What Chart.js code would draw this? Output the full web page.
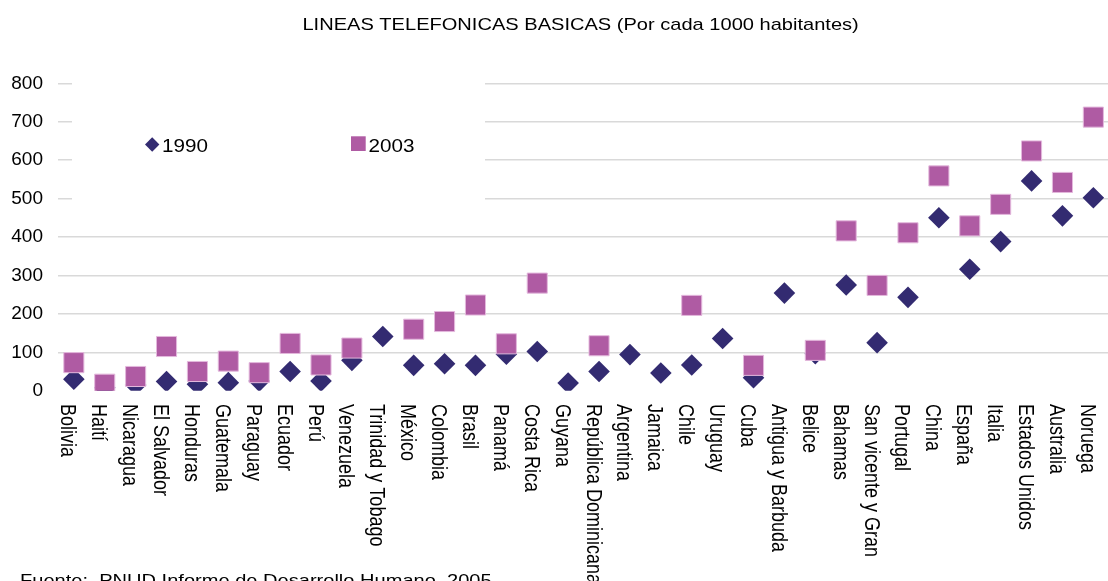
<!DOCTYPE html>
<html>
<head>
<meta charset="utf-8">
<script src="https://cdn.jsdelivr.net/npm/chart.js@4.4.0/dist/chart.umd.min.js"></script>
<style>
  html, body { margin: 0; padding: 0; background: #fff; overflow: hidden; }
  #wrap { width: 1124px; height: 581px; }
</style>
</head>
<body>
<div id="wrap"><canvas id="lineas"></canvas></div>
<script>
var paises = ["Bolivia", "Haití", "Nicaragua", "El Salvador", "Honduras", "Guatemala", "Paraguay",
  "Ecuador", "Perú", "Venezuela", "Trinidad y Tobago", "México", "Colombia", "Brasil", "Panamá",
  "Costa Rica", "Guyana", "República Dominicana", "Argentina", "Jamaica", "Chile", "Uruguay",
  "Cuba", "Antigua y Barbuda", "Belice", "Bahamas", "San vicente y Gran", "Portugal", "China",
  "España", "Italia", "Estados Unidos", "Australia", "Noruega"];

var lineas1990 = [30, 8, 15, 24, 17, 21, 25, 50, 25, 79, 141, 66, 70, 66, 95, 102, 20, 50, 94, 46,
  67, 136, 34, 254, 96, 275, 125, 243, 450, 316, 388, 546, 455, 502];

var lineas2003 = [73, 17, 37, 115, 50, 77, 47, 123, 67, 111, null, 160, 180, 223, 122, 280, null, 117,
  null, null, 222, null, 66, null, 105, 416, 274, 411, 559, 429, 485, 624, 542, 712];

var ticksY = [0, 100, 200, 300, 400, 500, 600, 700, 800];

var titulo = "LINEAS TELEFONICAS BASICAS (Por cada 1000 habitantes)";
var fuente = "Fuente:  PNUD Informe de Desarrollo Humano, 2005";

var LETRA = '"Liberation Sans", Arial, sans-serif';
var ANCHO = 1.18; // las letras van algo ensanchadas

// texto ensanchado en horizontal; rot en radianes
function escribe(ctx, str, x, y, size, align, rot) {
  ctx.save();
  ctx.translate(x, y);
  ctx.scale(ANCHO, 1);
  if (rot) ctx.rotate(rot);
  ctx.font = size + 'px ' + LETRA;
  ctx.fillStyle = '#000';
  ctx.textAlign = align;
  ctx.textBaseline = 'alphabetic';
  ctx.fillText(str, 0, 0);
  ctx.restore();
}

var adornos = {
  id: 'adornos',
  beforeDatasetsDraw: function (chart) {
    var ctx = chart.ctx;
    var ds = chart.data.datasets;
    ctx.save();
    // caja blanca de la leyenda sobre las lineas de division
    ctx.fillStyle = '#fff';
    ctx.fillRect(72, 70, 413, 145);

    ctx.fillStyle = ds[0].backgroundColor;
    ctx.beginPath();
    ctx.moveTo(145, 144.5);
    ctx.lineTo(152.2, 137.3);
    ctx.lineTo(159.4, 144.5);
    ctx.lineTo(152.2, 151.7);
    ctx.closePath();
    ctx.fill();
    escribe(ctx, ds[0].label, 162, 151.5, 17.5, 'left');

    ctx.fillStyle = ds[1].backgroundColor;
    ctx.fillRect(351, 136.3, 14.7, 14.7);
    escribe(ctx, ds[1].label, 368.5, 151.5, 17.5, 'left');
    ctx.restore();
  },
  afterDraw: function (chart) {
    var ctx = chart.ctx;
    var area = chart.chartArea;
    var xs = chart.scales.x;
    escribe(ctx, titulo, (area.left + area.right) / 2 - 3, 30, 17, 'center');
    paises.forEach(function (p, i) {
      var x = xs.getPixelForValue(i);
      escribe(ctx, p, x - 12.5, 404, 18, 'left', Math.PI / 2);
    });
    escribe(ctx, fuente, 20, 585.5, 17, 'left');
  }
};

new Chart(document.getElementById('lineas'), {
  type: 'line',
  data: {
    labels: paises,
    datasets: [
      {
        label: '1990',
        data: lineas1990,
        showLine: false,
        order: 2,
        pointStyle: 'rectRot',
        pointRadius: 10.8,
        pointHoverRadius: 10.8,
        pointBorderWidth: 0,
        backgroundColor: '#332B71',
        borderColor: '#332B71'
      },
      {
        label: '2003',
        data: lineas2003,
        showLine: false,
        order: 1,
        pointStyle: 'rect',
        pointRadius: 14.2,
        pointHoverRadius: 14.2,
        pointBorderWidth: 1,
        backgroundColor: '#AF5BA3',
        borderColor: '#E4B9DD'
      }
    ]
  },
  options: {
    responsive: true,
    maintainAspectRatio: false,
    animation: false,
    layout: { padding: { left: 0, top: 83.3, right: 3.4, bottom: 0 } },
    plugins: {
      legend: { display: false },
      title: { display: false },
      tooltip: { enabled: false }
    },
    scales: {
      x: {
        offset: true,
        grid: { display: false },
        border: { display: false },
        ticks: { display: false },
        afterFit: function (scale) { scale.height = 190.3; }
      },
      y: {
        min: 0,
        max: 800,
        afterBuildTicks: function (scale) {
          scale.ticks = ticksY.map(function (v) { return { value: v }; });
        },
        afterFit: function (scale) { scale.width = 58.4; },
        grid: {
          drawTicks: false,
          lineWidth: 1.5,
          color: function (c) { return c.tick && c.tick.value === 0 ? 'rgba(0,0,0,0)' : '#D9D9D9'; }
        },
        border: { display: false },
        ticks: {
          padding: 15.4,
          color: '#000',
          font: { family: LETRA, size: 19 }
        }
      }
    }
  },
  plugins: [adornos]
});
</script>
</body>
</html>
